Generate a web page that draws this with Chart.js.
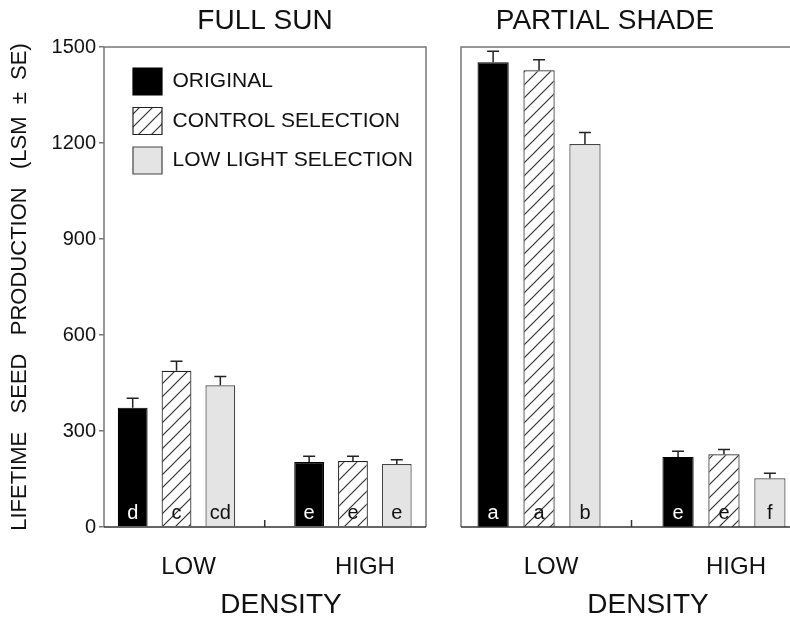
<!DOCTYPE html>
<html>
<head>
<meta charset="utf-8">
<script src="https://cdn.jsdelivr.net/npm/chart.js@4.4.1/dist/chart.umd.min.js"></script>
<style>
  html, body { margin: 0; padding: 0; background: #fff; overflow: hidden; }
  #wrap { position: relative; width: 790px; height: 619px; overflow: hidden; background: #fff; }
  #sun { position: absolute; left: 0; top: 0; }
  #shade { position: absolute; left: 440px; top: 0; }
</style>
</head>
<body>
<div id="wrap">
  <canvas id="sun" width="440" height="619"></canvas>
  <canvas id="shade" width="380" height="619"></canvas>
</div>
<script>
// Lifetime seed production (LSM + SE) by planting density, light environment and selection line
const densities = ['LOW', 'HIGH'];
const seriesNames = ['ORIGINAL', 'CONTROL SELECTION', 'LOW LIGHT SELECTION'];
const panelTitles = ['FULL SUN', 'PARTIAL SHADE'];
const densityTitle = 'DENSITY';
const yTitle = 'LIFETIME   SEED   PRODUCTION   (LSM  \u00B1  SE)';
const yTicks = [0, 300, 600, 900, 1200, 1500];

// Full sun
const sunOriginal = [373, 203];
const sunControl = [488, 206];
const sunLowLight = [443, 197];
const sunOriginalSE = [29, 18];
const sunControlSE = [30, 15];
const sunLowLightSE = [27, 13];
const sunOriginalGroups = ['d', 'e'];
const sunControlGroups = ['c', 'e'];
const sunLowLightGroups = ['cd', 'e'];

// Partial shade
const shadeOriginal = [1452, 219];
const shadeControl = [1427, 227];
const shadeLowLight = [1197, 152];
const shadeOriginalSE = [35, 18];
const shadeControlSE = [33, 15];
const shadeLowLightSE = [36, 16];
const shadeOriginalGroups = ['a', 'e'];
const shadeControlGroups = ['a', 'e'];
const shadeLowLightGroups = ['b', 'f'];

const FONT = '"Liberation Sans", Arial, Helvetica, sans-serif';
Chart.defaults.font.family = FONT;
Chart.defaults.color = '#111';

function hatchPattern(ctx) {
  const s = 13;
  const c = document.createElement('canvas');
  c.width = s; c.height = s;
  const g = c.getContext('2d');
  g.fillStyle = '#fff';
  g.fillRect(0, 0, s, s);
  g.strokeStyle = '#333';
  g.lineWidth = 1.2;
  g.beginPath();
  g.moveTo(-1, s + 1); g.lineTo(s + 1, -1);
  g.moveTo(-1, 1); g.lineTo(1, -1);
  g.moveTo(s - 1, s + 1); g.lineTo(s + 1, s - 1);
  g.stroke();
  return ctx.createPattern(c, 'repeat');
}

function buildDatasets(ctx, values, errors, groups) {
  const styles = [
    { backgroundColor: '#000', borderColor: '#000' },
    { backgroundColor: hatchPattern(ctx), borderColor: '#222' },
    { backgroundColor: '#e4e4e4', borderColor: '#444' }
  ];
  return values.map((vals, k) => Object.assign({
    label: seriesNames[k],
    data: vals.map((y, i) => ({ x: i, y })),
    se: errors[k],
    groups: groups[k],
    borderWidth: 1.2,
    categoryPercentage: 0.745,
    barPercentage: 0.68
  }, styles[k]));
}

// Plot frame, baseline and the divider tick between density groups
const frame = {
  id: 'frame',
  afterDatasetsDraw(chart) {
    const { ctx, chartArea: a } = chart;
    const x = chart.scales.x;
    ctx.save();
    ctx.lineWidth = 1.5;
    ctx.strokeStyle = '#777';
    ctx.beginPath();
    ctx.moveTo(a.left, a.bottom); ctx.lineTo(a.left, a.top);
    ctx.lineTo(a.right, a.top); ctx.lineTo(a.right, a.bottom);
    ctx.stroke();
    ctx.strokeStyle = '#333';
    ctx.beginPath();
    ctx.moveTo(a.left, a.bottom); ctx.lineTo(a.right, a.bottom);
    const mx = x.getPixelForValue(0.5);
    ctx.moveTo(mx, a.bottom); ctx.lineTo(mx, a.bottom - 7);
    ctx.stroke();
    ctx.restore();
  }
};

// Upper standard-error whiskers and the significance letters at the foot of each bar
const barNotes = {
  id: 'barNotes',
  afterDatasetsDraw(chart) {
    const ctx = chart.ctx;
    const y = chart.scales.y;
    const base = y.getPixelForValue(0);
    chart.data.datasets.forEach((ds, k) => {
      chart.getDatasetMeta(k).data.forEach((bar, i) => {
        const v = ds.data[i].y;
        const top = y.getPixelForValue(v + ds.se[i]);
        ctx.save();
        ctx.strokeStyle = '#222';
        ctx.lineWidth = 1.5;
        ctx.beginPath();
        ctx.moveTo(bar.x, bar.y); ctx.lineTo(bar.x, top);
        ctx.moveTo(bar.x - 6, top); ctx.lineTo(bar.x + 6, top);
        ctx.stroke();
        ctx.font = '20px ' + FONT;
        ctx.textAlign = 'center';
        ctx.textBaseline = 'alphabetic';
        ctx.fillStyle = k === 0 ? '#fff' : '#111';
        ctx.fillText(ds.groups[i], bar.x, base - 8);
        ctx.restore();
      });
    });
  }
};

// Panel heading and density axis name
const panelText = {
  id: 'panelText',
  afterDraw(chart, args, o) {
    const ctx = chart.ctx;
    ctx.save();
    ctx.fillStyle = '#111';
    ctx.textAlign = 'center';
    ctx.textBaseline = 'middle';
    ctx.font = '28px ' + FONT;
    ctx.fillText(o.title, o.titleX, 21);
    ctx.fillText(densityTitle, o.densityX, 605);
    ctx.restore();
  }
};

// Places the key inside the upper-left corner of the plot
const legendSpot = {
  id: 'legendSpot',
  afterLayout(chart, args, o) {
    const lg = chart.legend;
    if (!lg || !o || !o.enabled) return;
    const a = chart.chartArea;
    const w = lg.width, h = lg.height;
    lg.left = a.left + o.dx;
    lg.top = a.top + o.dy;
    lg.right = lg.left + w;
    lg.bottom = lg.top + h;
  }
};

function makeChart(id, values, errors, groups, cfg) {
  const canvas = document.getElementById(id);
  const ctx = canvas.getContext('2d');
  return new Chart(ctx, {
    type: 'bar',
    data: { datasets: buildDatasets(ctx, values, errors, groups) },
    plugins: [legendSpot, frame, barNotes, panelText],
    options: {
      responsive: false,
      animation: false,
      devicePixelRatio: 1,
      layout: { padding: { left: 0, top: 47, right: cfg.padRight, bottom: 0 } },
      scales: {
        x: {
          type: 'linear',
          offset: false,
          min: cfg.xMin,
          max: cfg.xMax,
          afterBuildTicks(s) { s.ticks = densities.map((d, i) => ({ value: i })); },
          afterFit(s) { s.height = 92; },
          grid: { display: false, drawTicks: false, offset: false },
          border: { display: false },
          ticks: {
            callback: (v, i) => densities[i],
            font: { size: 24 },
            color: '#111',
            padding: 26,
            labelOffset: 12,
            maxRotation: 0
          }
        },
        y: {
          min: 0,
          max: 1500,
          afterBuildTicks(s) { s.ticks = yTicks.map(v => ({ value: v })); },
          afterFit(s) { s.width = cfg.yWidth; },
          grid: { display: cfg.showY, drawOnChartArea: false, drawTicks: true, tickLength: 5, color: '#777', lineWidth: 1.5 },
          border: { display: false },
          ticks: { display: cfg.showY, font: { size: 20 }, color: '#111', padding: 3, callback: v => String(v) },
          title: { display: cfg.showY, text: yTitle, font: { size: 22 }, color: '#111', padding: { top: 7, bottom: 0 } }
        }
      },
      plugins: {
        legend: {
          display: cfg.showLegend,
          position: 'chartArea',
          align: 'start',
          labels: { boxWidth: 29, boxHeight: 27, padding: 12.5, font: { size: 21 }, color: '#111' }
        },
        tooltip: { enabled: false },
        legendSpot: { enabled: cfg.showLegend, dx: 16.5, dy: 8.5 },
        panelText: { title: cfg.title, titleX: cfg.titleX, densityX: cfg.densityX }
      }
    }
  });
}

makeChart('sun',
  [sunOriginal, sunControl, sunLowLight],
  [sunOriginalSE, sunControlSE, sunLowLightSE],
  [sunOriginalGroups, sunControlGroups, sunLowLightGroups],
  { padRight: 14, xMin: -0.411, xMax: 1.414, yWidth: 104, showY: true, showLegend: true,
    title: panelTitles[0], titleX: 265, densityX: 281 });

makeChart('shade',
  [shadeOriginal, shadeControl, shadeLowLight],
  [shadeOriginalSE, shadeControlSE, shadeLowLightSE],
  [shadeOriginalGroups, shadeControlGroups, shadeLowLightGroups],
  { padRight: 21.5, xMin: -0.422, xMax: 1.403, yWidth: 21, showY: false, showLegend: false,
    title: panelTitles[1], titleX: 165, densityX: 208 });
</script>
</body>
</html>
